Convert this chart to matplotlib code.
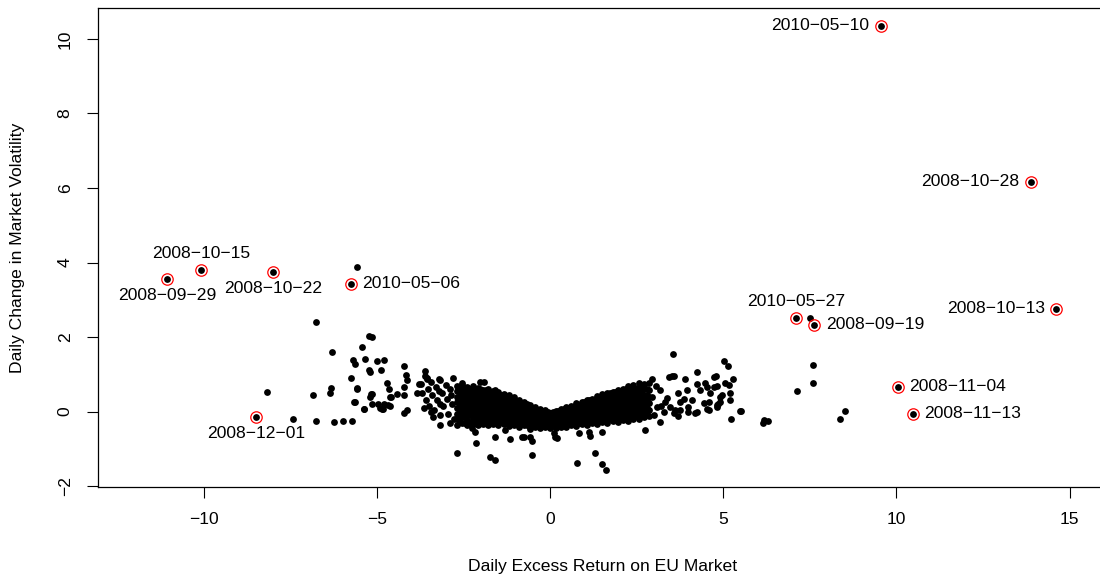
import matplotlib
matplotlib.use("Agg")
import matplotlib.pyplot as plt

plt.rcParams['font.family'] = ['Liberation Sans', 'DejaVu Sans']

# highlighted days (red rings + date labels)
hl_dates = ["2008-09-29", "2008-10-15", "2008-10-22", "2010-05-06", "2008-12-01",
            "2010-05-10", "2008-10-28", "2008-10-13", "2010-05-27", "2008-09-19",
            "2008-11-04", "2008-11-13"]
hl_x = [-11.08, -10.10, -8.02, -5.76, -8.50, 9.54, 13.89, 14.62, 7.10, 7.62, 10.04, 10.48]
hl_y = [3.55, 3.79, 3.76, 3.43, -0.14, 10.35, 6.17, 2.76, 2.51, 2.33, 0.67, -0.06]

# scattered points
pts_x = [-8.18, -7.43, -6.87, -6.78, -6.78, -6.30, -6.38, -6.33, -6.24, -6.00, -5.72, -5.77,
         -5.69, -5.64, -5.60, -5.65, -5.44, -5.36, -5.38, -5.23, -5.16, -5.23, -5.20, -5.18,
         -5.21, -5.16, -5.01, -4.98, -4.88, -4.80, -4.85, -4.72, -4.67, -4.69, -4.63, -4.60,
         -4.43, -4.24, -3.61, -4.16, -4.14, -3.56, -4.64, -4.24, -4.22, -3.81, -4.82, -4.86,
         -4.24, -4.14, -3.84, -3.45, -4.91, -5.58, -5.39, -5.67, -5.15,
         -3.75, -3.70, -3.62, -3.60, -3.55, -3.50, -3.45, -3.42, -3.35, -3.30, -3.28, -3.20,
         -3.18, -3.12, -3.10, -3.02, -2.98, -2.95, -2.90, -2.85, -2.82, -2.78, -3.40, -3.65,
         -2.88, -3.57, -3.23, -2.03, -1.93, -2.55, -1.59, -3.23, -3.20,
         -3.18, -2.89, -2.70, -2.14, -2.17, -1.59, -1.74, -1.59, -1.30, -1.18, -0.75, -0.53,
         -0.53, -0.58, 0.10, 0.19, 0.77, 0.84, 1.13, 1.15, 1.28, 1.49, 1.49, 1.62, 2.72,
         -2.27, -0.82, -0.60, 0.14,
         3.18, 3.70, 4.17, 5.22, 5.47, 3.53, 5.02, 5.13, 5.28, 4.25, 4.72, 4.79, 2.94, 3.42,
         3.56, 3.90, 5.18, 5.20, 4.83, 4.57, 4.24, 4.52, 4.81, 5.05, 3.51, 4.89, 4.81, 4.52,
         4.24, 3.99, 3.95, 4.09, 3.75, 3.68, 3.46, 3.37, 4.62, 4.43, 4.96, 3.18, 2.94, 3.08,
         3.27, 3.61, 4.33, 4.48, 4.72, 4.91, 5.15, 4.81, 4.57, 3.99, 3.75, 3.56, 3.19, 2.98,
         3.05, 3.30, 3.85,
         5.50, 6.16, 6.28, 6.15, 7.13, 7.58, 7.59, 8.36, 8.51, 7.51, -5.58]
pts_y = [0.53, -0.20, 0.45, 2.41, -0.25, 1.61, 0.51, 0.64, -0.29, -0.25, -0.25, 0.89,
         1.38, 1.28, 0.61, 0.27, 1.74, 1.41, 0.07, 2.03, 1.99, 1.12, 1.07, 0.47,
         0.39, 0.21, 1.36, 0.20, 1.11, 1.39, 0.07, 0.78, 0.60, 0.19, 0.16, 0.39,
         0.48, 1.23, 1.10, 0.98, 0.85, 0.91, 0.40, 0.67, 0.45, 0.74, 0.20, 0.06,
         -0.03, 0.05, 0.51, 0.00, 0.09, 0.63, 0.06, 0.27, 0.47,
         0.75, 0.50, 0.95, 0.30, 0.62, 0.15, 0.80, 0.45, 0.05, 0.65, 0.30, 0.85,
         -0.10, 0.50, 0.15, 0.72, 0.35, -0.05, 0.60, 0.20, 0.90, -0.20, -0.15, 0.10,
         0.45, 0.87, 0.87, 0.80, 0.80, 0.76, 0.58, 0.55, 0.20,
         -0.36, -0.30, -1.12, -0.85, -0.54, -0.69, -1.21, -1.30, -0.49, -0.74, -0.67, -0.80,
         -1.16, -0.67, -0.58, -0.72, -1.37, -0.56, -0.54, -0.65, -1.10, -0.54, -1.40, -1.56, -0.49,
         -0.45, -0.67, -0.47, -0.67,
         -0.29, -0.12, -0.04, -0.19, 0.02, 1.55, 1.37, 1.23, 0.88, 1.06, 0.92, 0.96, 0.87, 0.92,
         0.96, 0.87, 0.51, 0.30, 0.21, 0.05, 0.74, 0.67, 0.69, 0.76, 0.96, 0.27, 0.18, 0.06,
         0.00, 0.00, 0.58, 0.31, 0.27, 0.49, 0.13, 0.36, 0.49, 0.22, 0.45, 0.58, 0.40, 0.13,
         0.00, 0.05, 0.58, 0.76, 0.66, 0.40, 0.72, 0.13, 0.27, 0.13, 0.05, -0.04, 0.15, -0.09,
         0.70, 0.25, 0.35,
         0.02, -0.22, -0.25, -0.30, 0.55, 1.26, 0.76, -0.19, 0.02, 2.51, 3.88]

# dense core of the cloud, read column by column
core_x = [-2.70, -2.55, -2.40, -2.25, -2.10, -1.95, -1.80, -1.65, -1.50, -1.35, -1.20, -1.05,
          -0.90, -0.75, -0.60, -0.45, -0.30, -0.15, 0.00, 0.15, 0.30, 0.45, 0.60, 0.75,
          0.90, 1.05, 1.20, 1.35, 1.50, 1.65, 1.80, 1.95, 2.10, 2.25, 2.40, 2.55, 2.70, 2.85]
core_y = [
    [-0.35, -0.20, -0.05, 0.10, 0.25, 0.40, 0.55, 0.70],
    [-0.30, -0.15, 0.00, 0.15, 0.30, 0.45, 0.60, 0.72],
    [-0.36, -0.22, -0.06, 0.08, 0.22, 0.38, 0.52, 0.66],
    [-0.32, -0.17, -0.02, 0.13, 0.28, 0.43, 0.58, 0.68],
    [-0.37, -0.22, -0.07, 0.08, 0.23, 0.38, 0.53, 0.64],
    [-0.33, -0.18, -0.03, 0.12, 0.27, 0.42, 0.57],
    [-0.36, -0.21, -0.06, 0.09, 0.24, 0.39, 0.54, 0.62],
    [-0.32, -0.17, -0.02, 0.13, 0.28, 0.43, 0.56],
    [-0.37, -0.22, -0.07, 0.08, 0.23, 0.38, 0.52],
    [-0.34, -0.19, -0.04, 0.11, 0.26, 0.41, 0.48],
    [-0.38, -0.23, -0.08, 0.07, 0.22, 0.36, 0.44],
    [-0.35, -0.20, -0.05, 0.10, 0.25, 0.38],
    [-0.40, -0.25, -0.10, 0.05, 0.20, 0.32],
    [-0.37, -0.22, -0.07, 0.08, 0.22, 0.27],
    [-0.42, -0.27, -0.12, 0.03, 0.17],
    [-0.40, -0.25, -0.10, 0.04, 0.12],
    [-0.44, -0.30, -0.15, 0.00, 0.08],
    [-0.42, -0.28, -0.14, 0.00, 0.04],
    [-0.45, -0.31, -0.17, -0.03],
    [-0.44, -0.30, -0.16, -0.02, 0.02],
    [-0.42, -0.28, -0.14, 0.00, 0.06],
    [-0.40, -0.26, -0.12, 0.02, 0.12],
    [-0.36, -0.22, -0.08, 0.06, 0.16],
    [-0.38, -0.24, -0.10, 0.04, 0.18, 0.22],
    [-0.33, -0.19, -0.05, 0.09, 0.23, 0.27],
    [-0.35, -0.21, -0.07, 0.07, 0.21, 0.31],
    [-0.30, -0.16, -0.02, 0.12, 0.26, 0.35],
    [-0.33, -0.19, -0.05, 0.09, 0.23, 0.37, 0.41],
    [-0.28, -0.14, 0.00, 0.14, 0.28, 0.42, 0.46],
    [-0.30, -0.16, -0.02, 0.12, 0.26, 0.40, 0.50],
    [-0.25, -0.11, 0.03, 0.17, 0.31, 0.45, 0.54],
    [-0.27, -0.13, 0.01, 0.15, 0.29, 0.43, 0.57],
    [-0.22, -0.08, 0.06, 0.20, 0.34, 0.48, 0.62],
    [-0.24, -0.10, 0.04, 0.18, 0.32, 0.46, 0.60, 0.68],
    [-0.19, -0.05, 0.09, 0.23, 0.37, 0.51, 0.65, 0.72],
    [-0.20, -0.06, 0.08, 0.22, 0.36, 0.50, 0.64, 0.76],
    [-0.15, 0.00, 0.15, 0.30, 0.45, 0.60, 0.75],
    [-0.12, 0.05, 0.22, 0.40, 0.58, 0.78],
]

# second pass over the core, between the columns above
core2_x = [-2.62, -2.47, -2.32, -2.17, -2.02, -1.87, -1.72, -1.57, -1.42, -1.27, -1.12, -0.97,
           -0.82, -0.67, -0.52, -0.37, -0.22, -0.07, 0.08, 0.23, 0.38, 0.53, 0.68, 0.83,
           0.98, 1.13, 1.28, 1.43, 1.58, 1.73, 1.88, 2.03, 2.18, 2.33, 2.48, 2.63, 2.78]
core2_y = [
    [-0.28, -0.12, 0.05, 0.20, 0.36, 0.52, 0.66],
    [-0.30, -0.14, 0.02, 0.18, 0.34, 0.50, 0.64],
    [-0.27, -0.10, 0.05, 0.20, 0.35, 0.50, 0.62],
    [-0.30, -0.14, 0.01, 0.16, 0.31, 0.46, 0.60],
    [-0.28, -0.12, 0.03, 0.18, 0.33, 0.48, 0.60],
    [-0.28, -0.13, 0.02, 0.17, 0.32, 0.47, 0.58],
    [-0.27, -0.12, 0.03, 0.18, 0.33, 0.48],
    [-0.30, -0.15, 0.00, 0.15, 0.30, 0.45],
    [-0.28, -0.13, 0.02, 0.17, 0.32, 0.44],
    [-0.30, -0.15, 0.00, 0.15, 0.30, 0.40],
    [-0.30, -0.15, 0.00, 0.15, 0.30],
    [-0.32, -0.17, -0.02, 0.13, 0.27],
    [-0.33, -0.18, -0.03, 0.12, 0.24],
    [-0.35, -0.20, -0.05, 0.10, 0.20],
    [-0.36, -0.20, -0.05, 0.08],
    [-0.37, -0.22, -0.07, 0.05],
    [-0.38, -0.23, -0.08, 0.02],
    [-0.38, -0.24, -0.10, 0.00],
    [-0.38, -0.24, -0.10, 0.00],
    [-0.37, -0.22, -0.08, 0.03],
    [-0.35, -0.20, -0.06, 0.08],
    [-0.33, -0.18, -0.04, 0.10],
    [-0.30, -0.16, -0.02, 0.12],
    [-0.30, -0.15, 0.00, 0.15],
    [-0.28, -0.13, 0.02, 0.17, 0.26],
    [-0.26, -0.12, 0.03, 0.18, 0.30],
    [-0.25, -0.10, 0.05, 0.20, 0.32],
    [-0.24, -0.08, 0.07, 0.22, 0.36],
    [-0.22, -0.07, 0.08, 0.23, 0.38],
    [-0.20, -0.05, 0.10, 0.25, 0.40, 0.50],
    [-0.20, -0.05, 0.10, 0.25, 0.40, 0.52],
    [-0.18, -0.02, 0.13, 0.28, 0.43, 0.56],
    [-0.16, 0.00, 0.15, 0.30, 0.45, 0.60],
    [-0.15, 0.00, 0.15, 0.30, 0.45, 0.60],
    [-0.12, 0.02, 0.17, 0.32, 0.47, 0.62],
    [-0.10, 0.05, 0.20, 0.35, 0.50, 0.66],
    [-0.05, 0.10, 0.28, 0.45, 0.62],
]

# which side of the point each date label sits on
label_side = {"2008-09-29": "below", "2008-10-15": "above", "2008-10-22": "below",
              "2010-05-06": "right", "2008-12-01": "below", "2010-05-10": "left",
              "2008-10-28": "left", "2008-10-13": "left", "2010-05-27": "above",
              "2008-09-19": "right", "2008-11-04": "right", "2008-11-13": "right"}

W, H = 1100, 582
fig = plt.figure(figsize=(W / 100, H / 100), dpi=100)
ax = fig.add_axes([97.7 / W, (H - 487.3) / H, (1106.9 - 97.7) / W, (487.3 - 8) / H])

all_x = list(pts_x) + list(hl_x)
all_y = list(pts_y) + list(hl_y)
for cols_x, cols_y in ((core_x, core_y), (core2_x, core2_y)):
    for cx, ys in zip(cols_x, cols_y):
        all_x += [cx] * len(ys)
        all_y += ys

ax.plot(all_x, all_y, 'o', color='black', ms=4.9, mew=0, zorder=2)
ax.plot(hl_x, hl_y, 'o', mfc='none', mec='red', ms=8.2, mew=0.9, zorder=3)

offsets = {"above": (0, 12), "below": (0, -12), "left": (-8.3, 0), "right": (8.3, 0)}
ha_map = {"above": "center", "below": "center", "left": "right", "right": "left"}
for d, x, y in zip(hl_dates, hl_x, hl_y):
    side = label_side[d]
    ax.annotate(d.replace("-", "\u2212"), (x, y), xytext=offsets[side],
                textcoords='offset points', ha=ha_map[side], va='center',
                fontsize=12.6, color='black')

ax.set_xlim(-13.08, 16.08)
ax.set_ylim(-2.03, 10.83)
ax.set_xticks([-10, -5, 0, 5, 10, 15])
ax.set_yticks([-2, 0, 2, 4, 6, 8, 10])
ax.tick_params(direction='out', length=8, width=0.8, labelsize=12.6, pad=10)
for lab in ax.get_yticklabels():
    lab.set_rotation(90)
    lab.set_va('center')
for sp in ax.spines.values():
    sp.set_linewidth(0.9)
ax.spines['right'].set_visible(False)

fig.text((97.7 + 1106.9) / 2 / W, 1 - 566 / H, "Daily Excess Return on EU Market",
         ha='center', va='center', fontsize=12.6)
fig.text(18 / W, 1 - 247.6 / H, "Daily Change in Market Volatility",
         ha='center', va='center', rotation=90, fontsize=12.6)

fig.savefig("out.png", dpi=100)
